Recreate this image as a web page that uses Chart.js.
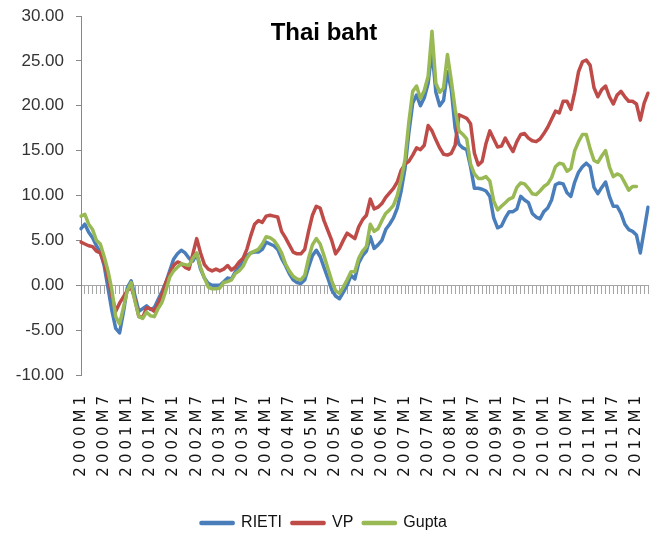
<!DOCTYPE html>
<html><head><meta charset="utf-8">
<script src="https://cdn.jsdelivr.net/npm/chart.js@4.4.1/dist/chart.umd.min.js"></script>
<style>html,body{margin:0;padding:0;background:#fff}canvas{display:block}</style>
</head><body>
<canvas id="c" width="659" height="543"></canvas>
<script>
const titleText = 'Thai baht';
const categories = [
'2000M1','2000M2','2000M3','2000M4','2000M5','2000M6','2000M7','2000M8','2000M9','2000M10','2000M11','2000M12',
'2001M1','2001M2','2001M3','2001M4','2001M5','2001M6','2001M7','2001M8','2001M9','2001M10','2001M11','2001M12',
'2002M1','2002M2','2002M3','2002M4','2002M5','2002M6','2002M7','2002M8','2002M9','2002M10','2002M11','2002M12',
'2003M1','2003M2','2003M3','2003M4','2003M5','2003M6','2003M7','2003M8','2003M9','2003M10','2003M11','2003M12',
'2004M1','2004M2','2004M3','2004M4','2004M5','2004M6','2004M7','2004M8','2004M9','2004M10','2004M11','2004M12',
'2005M1','2005M2','2005M3','2005M4','2005M5','2005M6','2005M7','2005M8','2005M9','2005M10','2005M11','2005M12',
'2006M1','2006M2','2006M3','2006M4','2006M5','2006M6','2006M7','2006M8','2006M9','2006M10','2006M11','2006M12',
'2007M1','2007M2','2007M3','2007M4','2007M5','2007M6','2007M7','2007M8','2007M9','2007M10','2007M11','2007M12',
'2008M1','2008M2','2008M3','2008M4','2008M5','2008M6','2008M7','2008M8','2008M9','2008M10','2008M11','2008M12',
'2009M1','2009M2','2009M3','2009M4','2009M5','2009M6','2009M7','2009M8','2009M9','2009M10','2009M11','2009M12',
'2010M1','2010M2','2010M3','2010M4','2010M5','2010M6','2010M7','2010M8','2010M9','2010M10','2010M11','2010M12',
'2011M1','2011M2','2011M3','2011M4','2011M5','2011M6','2011M7','2011M8','2011M9','2011M10','2011M11','2011M12',
'2012M1','2012M2','2012M3','2012M4'];
const rieti = [
6.3,6.8,5.9,5.3,4.4,3.7,2.2,-0.3,-2.8,-4.8,-5.3,-3.0,
-0.3,0.5,-1.2,-2.9,-2.6,-2.3,-2.7,-2.5,-1.6,-0.7,0.3,1.6,
2.9,3.5,3.9,3.6,3.0,2.7,3.5,1.8,0.8,0.2,0.0,0.0,
0.0,0.4,0.8,0.7,1.5,2.0,2.7,3.3,3.6,3.7,3.7,4.0,
4.8,4.6,4.4,4.0,3.0,2.2,1.3,0.6,0.3,0.2,0.6,2.0,
3.3,3.9,3.2,2.0,0.8,-0.5,-1.2,-1.5,-0.8,0.0,1.1,0.7,
2.5,3.3,3.8,5.4,4.1,4.5,5.0,6.2,6.8,7.5,8.6,10.5,
13.0,17.0,20.3,21.2,20.0,20.9,22.5,26.2,21.5,20.0,20.6,23.8,
21.8,17.5,15.7,15.3,15.1,13.2,10.8,10.8,10.7,10.5,9.9,7.5,
6.4,6.6,7.5,8.2,8.2,8.5,9.9,9.5,9.2,8.0,7.6,7.4,
8.2,8.6,9.5,11.2,11.4,11.3,10.3,9.9,11.5,12.6,13.2,13.6,
13.2,10.9,10.2,10.9,11.5,9.9,8.8,8.8,8.0,6.8,6.2,6.0,
5.6,3.6,6.1,8.7];
const vp = [
4.8,4.6,4.4,4.3,3.8,3.6,2.5,0.8,-1.2,-2.9,-2.0,-1.3,
-0.6,-0.2,-1.6,-3.5,-3.6,-2.5,-2.6,-2.9,-2.0,-1.0,0.3,1.3,
2.2,2.6,2.4,2.0,1.8,3.5,5.2,3.6,2.3,1.8,1.6,1.8,
1.6,1.8,2.2,1.7,2.0,2.6,3.0,4.0,5.5,6.8,7.2,7.0,
7.7,7.8,7.7,7.6,6.0,5.3,4.5,3.7,3.5,3.5,4.0,6.0,
7.8,8.8,8.6,7.2,6.1,5.0,3.5,4.1,5.0,5.8,5.5,5.2,
6.5,7.3,7.8,9.6,8.5,8.7,9.1,9.8,10.3,10.8,11.5,12.8,
13.5,13.8,14.5,15.3,15.1,15.6,17.8,17.2,16.2,15.3,14.6,14.5,
14.7,15.6,19.0,18.8,18.6,18.0,14.7,13.4,13.8,15.8,17.2,16.3,
15.4,15.5,16.4,15.6,14.9,16.0,16.8,16.9,16.4,16.1,16.0,16.3,
16.9,17.6,18.5,19.4,19.2,20.5,20.5,19.6,21.5,23.8,24.9,25.1,
24.5,22.0,21.0,21.8,22.2,21.0,20.2,21.2,21.6,21.0,20.5,20.5,
20.2,18.4,20.3,21.4];
const gupta = [
7.7,7.9,6.8,6.2,5.0,4.6,3.2,1.6,-0.5,-3.5,-4.3,-2.5,
-0.6,0.3,-1.8,-3.5,-3.7,-3.0,-3.4,-3.5,-2.6,-1.9,-0.6,0.9,
1.6,2.0,2.4,2.3,2.2,3.0,3.6,2.0,0.8,-0.2,-0.4,-0.4,
-0.3,0.3,0.4,0.6,1.3,1.6,2.1,3.0,3.6,3.8,4.0,4.6,
5.4,5.3,5.0,4.4,3.6,2.4,1.6,1.0,0.7,0.6,1.1,3.0,
4.5,5.2,4.6,3.3,1.9,0.5,-0.6,-0.9,-0.2,0.6,1.5,1.5,
3.0,3.8,4.3,6.8,6.0,6.3,7.2,8.0,8.4,8.9,10.0,11.8,
14.0,18.2,21.6,22.2,20.8,21.7,23.3,28.3,22.5,21.5,22.0,25.7,
22.8,19.6,17.2,16.8,16.3,13.5,12.4,11.9,11.9,12.1,11.6,9.4,
8.4,8.8,9.2,9.6,9.8,10.9,11.4,11.3,10.8,10.2,10.1,10.5,
11.0,11.3,12.0,13.2,13.6,13.5,12.7,13.0,15.0,16.0,16.8,16.8,
15.2,13.9,13.7,14.4,15.0,13.2,12.1,12.4,12.2,11.4,10.6,11.0,
11.0,null,null,null];
const yMin = -10, yMax = 30, yStep = 5;

const SANS = "'Liberation Sans', Arial, sans-serif";
const WIDE = "'DejaVu Sans', Verdana, sans-serif";

const xLabelSpacing = {
  id: 'xLabelSpacing',
  afterUpdate(chart) {
    const sc = chart.scales.x;
    if (!sc || sc._spaced) return;
    const orig = sc.drawLabels;
    sc.drawLabels = function (area) {
      const ctx = this.ctx;
      ctx.save();
      ctx.letterSpacing = '4px';
      orig.call(this, area);
      ctx.restore();
    };
    sc._spaced = true;
  }
};

const mk = (label, data, color, order) => ({
  label, data, borderColor: color, backgroundColor: color, borderWidth: 3.5,
  pointRadius: 0, pointHoverRadius: 0, tension: 0, order,
  borderCapStyle: 'round', borderJoinStyle: 'round', xAxisID: 'x', yAxisID: 'y', spanGaps: false
});

new Chart(document.getElementById('c'), {
  type: 'line',
  data: {
    labels: categories,
    datasets: [
      mk('RIETI', rieti, '#4A7EBB', 2),
      mk('VP', vp, '#BE4B48', 1),
      mk('Gupta', gupta, '#98B954', 0)
    ]
  },
  plugins: [xLabelSpacing],
  options: {
    responsive: false,
    animation: false,
    events: [],
    layout: { padding: { left: 0, right: 11, top: 0, bottom: 2 } },
    plugins: {
      title: {
        display: true, text: titleText, color: '#000',
        font: { family: SANS, size: 24, weight: 'bold' },
        padding: { top: 18.6, bottom: -31.4 }
      },
      legend: {
        position: 'bottom',
        labels: {
          boxWidth: 32, boxHeight: 1, padding: 10, color: '#111',
          font: { family: SANS, size: 16 },
          sort: (a, b) => a.datasetIndex - b.datasetIndex
        }
      },
      tooltip: { enabled: false }
    },
    scales: {
      x: {
        type: 'category', position: 'bottom', offset: false,
        grid: { display: false, drawTicks: false },
        border: { display: false },
        ticks: {
          autoSkip: false, maxRotation: 90, minRotation: 90, padding: 17, color: '#111',
          font: { family: WIDE, size: 15 },
          callback: (v, i) => (i % 6 === 0 ? categories[i] : '')
        },
        afterFit(s) { s.height = 130; s.paddingLeft = 0; s.paddingRight = 0; }
      },
      x0: {
        type: 'category', position: { y: 0 }, offset: false,
        grid: { display: true, drawOnChartArea: false, drawTicks: true, tickLength: 8, color: '#a6a6a6' },
        border: { display: true, color: '#a6a6a6', width: 1 },
        ticks: { display: false, autoSkip: false },
        afterFit(s) { s.paddingLeft = 0; s.paddingRight = 0; }
      },
      y: {
        min: yMin, max: yMax,
        ticks: {
          stepSize: yStep, padding: 12, color: '#333',
          font: { family: SANS, size: 17 },
          callback: v => Number(v).toFixed(2)
        },
        grid: { drawOnChartArea: false, tickLength: 5, color: '#888' },
        border: { color: '#888' },
        afterFit(s) { s.width = 81; s.paddingTop = 0; s.paddingBottom = 0; }
      }
    }
  }
});
</script>
</body></html>
